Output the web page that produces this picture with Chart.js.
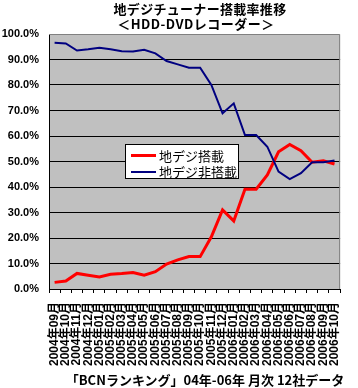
<!DOCTYPE html>
<html>
<head>
<meta charset="utf-8">
<script src="https://cdn.jsdelivr.net/npm/chart.js@4/dist/chart.umd.min.js"></script>
<style>
html,body{margin:0;padding:0;background:#fff;}
#wrap{position:relative;width:358px;height:388px;overflow:hidden;font-family:"Noto Sans CJK JP",sans-serif;}
canvas{position:absolute;left:0;top:0;}
.t{position:absolute;width:358px;text-align:center;font-weight:bold;font-size:13px;line-height:15px;color:#000;white-space:nowrap;}
#legend{position:absolute;left:125px;top:144px;width:112px;height:33px;background:#fff;border:1px solid #000;font-size:13px;line-height:17px;}
.row{position:absolute;left:0;height:17px;white-space:nowrap;}
.sw{position:absolute;left:5px;width:25px;}
.lt{position:absolute;left:33px;top:0;}
</style>
</head>
<body>
<div id="wrap">
<canvas id="c" width="358" height="388"></canvas>
<div class="t" style="top:1px;left:21px;letter-spacing:0.3px;">地デジチューナー搭載率推移</div>
<div class="t" style="top:16px;left:17px;letter-spacing:0.5px;">＜HDD-DVDレコーダー＞</div>
<div class="t" style="top:372px;left:26px;">「BCNランキング」04年-06年 月次 12社データ</div>
<div id="legend">
  <div class="row" style="top:2px;"><div class="sw" style="top:7px;height:3px;background:#ff0000;"></div><div class="lt" id="l1"></div></div>
  <div class="row" style="top:18px;"><div class="sw" style="top:8px;height:2px;background:#000080;"></div><div class="lt" id="l2"></div></div>
</div>
</div>
<script>
const categories = ["2004年09月","2004年10月","2004年11月","2004年12月","2005年01月","2005年02月","2005年03月","2005年04月","2005年05月","2005年06月","2005年07月","2005年08月","2005年09月","2005年10月","2005年11月","2005年12月","2006年01月","2006年02月","2006年03月","2006年04月","2006年05月","2006年06月","2006年07月","2006年08月","2006年09月","2006年10月"];
const seriesNames = ["地デジ搭載","地デジ非搭載"];
const withTuner = [2.6,3.1,6.1,5.4,4.7,5.8,6.1,6.5,5.4,6.8,9.8,11.4,12.7,12.7,20.5,31.0,26.7,39.1,39.1,44.7,53.8,56.7,54.2,49.7,50.3,49.0];
const withoutTuner = [96.6,96.3,93.5,94.0,94.6,94.0,93.2,93.1,93.8,92.4,89.4,88.1,86.8,86.8,80.0,68.9,72.8,60.4,60.4,55.8,46.0,43.1,45.4,49.7,49.7,50.4];
const yTicks = [0,10,20,30,40,50,60,70,80,90,100];

document.getElementById('l1').textContent = seriesNames[0];
document.getElementById('l2').textContent = seriesNames[1];

const plotBg = {
  id:'plotBg',
  beforeDraw(chart){
    const {ctx, chartArea:a} = chart;
    ctx.save();
    ctx.fillStyle = '#c0c0c0';
    ctx.fillRect(a.left, a.top, a.right-a.left, a.bottom-a.top);
    ctx.restore();
  },
  afterDraw(chart){
    const {ctx, chartArea:a} = chart;
    ctx.save();
    ctx.strokeStyle = '#808080';
    ctx.lineWidth = 1;
    ctx.beginPath();
    ctx.moveTo(a.left, a.top+0.5);
    ctx.lineTo(a.right-0.5, a.top+0.5);
    ctx.lineTo(a.right-0.5, a.bottom);
    ctx.stroke();
    ctx.restore();
  }
};

Chart.defaults.color = '#000';
new Chart(document.getElementById('c'), {
  type:'line',
  data:{
    labels: categories,
    datasets:[
      {label:seriesNames[1], data:withoutTuner, borderColor:'#000080', borderWidth:2, pointRadius:0, tension:0, fill:false},
      {label:seriesNames[0], data:withTuner, borderColor:'#ff0000', borderWidth:3, pointRadius:0, tension:0, fill:false}
    ]
  },
  options:{
    responsive:false,
    animation:false,
    devicePixelRatio:1,
    layout:{padding:{left:0,right:4,top:34,bottom:0}},
    plugins:{legend:{display:false}, tooltip:{enabled:false}, title:{display:false}},
    scales:{
      x:{
        type:'category',
        offset:true,
        grid:{display:true, drawOnChartArea:false, drawTicks:true, tickLength:4, color:'#000', offset:true},
        border:{display:true, color:'#000', width:1},
        ticks:{autoSkip:false, minRotation:90, maxRotation:90, padding:9,
               font:{family:'"Liberation Sans","Noto Sans CJK JP"', size:12, weight:'bold'}},
        afterFit(s){ s.height = 99; }
      },
      y:{
        min:0, max:100,
        afterBuildTicks(s){ s.ticks = yTicks.map(v=>({value:v})); },
        grid:{drawTicks:false, color:(c)=> c.tick && c.tick.value===100 ? 'rgba(0,0,0,0)' : '#000', lineWidth:1},
        border:{display:true, color:'#000', width:1},
        ticks:{padding:10, callback:(v)=>Number(v).toFixed(1)+'%',
               font:{family:'"Liberation Sans"', size:11, weight:'bold'}},
        afterFit(s){ s.width = 49; }
      }
    }
  },
  plugins:[plotBg]
});
</script>
</body>
</html>
